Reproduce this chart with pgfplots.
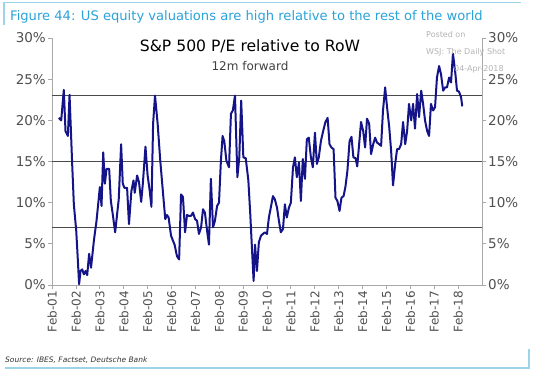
\documentclass[border=0pt]{standalone}
\usepackage{fontspec}
\setmainfont{DejaVu Sans}
\usepackage{pgfplots}
\pgfplotsset{compat=1.18}
\definecolor{dbblue}{HTML}{2AA3DA}
\definecolor{frameblue}{HTML}{9ED4EA}
\definecolor{navyline}{HTML}{141488}
\definecolor{axgray}{HTML}{A8A8A8}
\definecolor{lblgray}{HTML}{505050}
\definecolor{refgray}{HTML}{4A4A4A}
\definecolor{wmgray}{HTML}{B4B4B4}
\begin{document}
\begin{tikzpicture}
\begin{scope}[x=1pt,y=1pt]
\useasboundingbox (0,0) rectangle (540,370);
\fill[white] (0,0) rectangle (540,370);
\draw[frameblue, line width=1.3pt] (4,345) -- (4,367.5) -- (521,367.5);
\draw[frameblue, line width=1.3pt] (5,2) -- (529,2) -- (529,21);
\node[anchor=base west, text=dbblue, inner sep=0pt, font=\fontsize{13.1}{15}\selectfont] at (10,349) {Figure 44: US equity valuations are high relative to the rest of the world};
\node[anchor=west, inner sep=0pt, text=black!80, font=\fontsize{7.5}{9}\selectfont\itshape] at (5,10) {Source: IBES, Factset, Deutsche Bank};
\end{scope}
\begin{axis}[
  at={(52pt,85pt)}, anchor=south west,
  scale only axis, width=430pt, height=247pt,
  xmin=2001.075, xmax=2019.087, ymin=0, ymax=30,
  axis x line*=bottom, axis y line*=left,
  axis line style={axgray, line width=0.9pt},
  tick style={axgray, line width=0.9pt},
  tick align=outside, major tick length=4pt,
  xtick={2001.083,2002.083,2003.083,2004.083,2005.083,2006.083,2007.083,2008.083,2009.083,2010.083,2011.083,2012.083,2013.083,2014.083,2015.083,2016.083,2017.083,2018.083},
  xticklabels={Feb-01,Feb-02,Feb-03,Feb-04,Feb-05,Feb-06,Feb-07,Feb-08,Feb-09,Feb-10,Feb-11,Feb-12,Feb-13,Feb-14,Feb-15,Feb-16,Feb-17,Feb-18},
  xticklabel style={rotate=90, anchor=east, text=lblgray, font=\fontsize{12}{14}\selectfont, inner sep=2pt},
  ytick={0,5,10,15,20,25,30},
  yticklabels={0\%,5\%,10\%,15\%,20\%,25\%,30\%},
  yticklabel style={text=lblgray, font=\fontsize{13.5}{15}\selectfont, inner sep=2pt},
  clip=false,
]
\addplot[refgray, line width=1.2pt] coordinates {(2001.075,7)(2019.087,7)};
\addplot[refgray, line width=1.2pt] coordinates {(2001.075,15)(2019.087,15)};
\addplot[refgray, line width=1.2pt] coordinates {(2001.075,23)(2019.087,23)};
\addplot[navyline, line width=2pt, line join=round] coordinates {
(2001.36,20.3)(2001.46,20.0)(2001.57,23.7)(2001.64,18.7)(2001.74,18.1)(2001.81,23.1)(2001.92,14.7)(2001.99,9.8)(2002.09,6.6)(2002.16,2.9)(2002.21,0.1)(2002.27,1.7)(2002.34,1.9)(2002.41,1.3)(2002.48,1.7)(2002.55,1.2)(2002.63,3.8)(2002.71,2.1)(2002.83,5.4)(2002.94,7.8)(2003.08,11.9)(2003.15,9.6)(2003.22,16.1)(2003.29,12.3)(2003.36,14.1)(2003.47,14.1)(2003.54,10.2)(2003.62,8.6)(2003.72,6.4)(2003.87,10.4)(2003.97,17.1)(2004.04,12.3)(2004.11,11.8)(2004.22,11.8)(2004.30,7.4)(2004.40,11.4)(2004.49,12.7)(2004.54,11.2)(2004.64,13.3)(2004.72,12.5)(2004.81,10.1)(2004.88,12.3)(2004.99,16.8)(2005.08,13.3)(2005.17,11.4)(2005.24,9.5)(2005.31,19.6)(2005.39,23.0)(2005.50,19.6)(2005.61,15.1)(2005.73,11.0)(2005.82,8.0)(2005.89,8.5)(2005.96,8.2)(2006.06,6.0)(2006.14,5.4)(2006.21,4.9)(2006.31,3.5)(2006.40,3.1)(2006.48,11.0)(2006.56,10.7)(2006.65,6.4)(2006.73,8.5)(2006.81,8.4)(2006.90,8.4)(2006.98,8.8)(2007.07,8.0)(2007.15,7.8)(2007.23,6.2)(2007.32,7.0)(2007.40,9.2)(2007.48,8.8)(2007.57,6.6)(2007.65,4.9)(2007.73,12.9)(2007.82,7.0)(2007.90,7.8)(2007.99,9.6)(2008.07,10.0)(2008.15,15.1)(2008.22,18.1)(2008.29,17.5)(2008.38,15.1)(2008.49,14.3)(2008.57,20.8)(2008.65,21.2)(2008.74,23.0)(2008.84,13.1)(2008.92,15.5)(2009.00,22.4)(2009.09,15.5)(2009.19,15.4)(2009.30,12.7)(2009.38,8.6)(2009.45,4.5)(2009.52,0.5)(2009.58,4.9)(2009.66,1.7)(2009.74,5.2)(2009.83,6.0)(2009.91,6.2)(2009.99,6.4)(2010.08,6.2)(2010.16,8.2)(2010.24,9.4)(2010.33,10.8)(2010.41,10.4)(2010.50,9.4)(2010.58,7.8)(2010.66,6.4)(2010.75,6.8)(2010.83,9.8)(2010.91,8.2)(2011.00,9.4)(2011.08,10.0)(2011.17,14.3)(2011.25,15.5)(2011.33,13.1)(2011.42,14.9)(2011.50,10.2)(2011.58,15.3)(2011.67,12.9)(2011.75,17.7)(2011.83,17.9)(2011.92,15.5)(2012.00,14.3)(2012.09,18.5)(2012.17,14.7)(2012.25,15.5)(2012.34,17.5)(2012.45,18.9)(2012.53,19.8)(2012.62,20.3)(2012.70,17.1)(2012.78,16.7)(2012.87,16.5)(2012.95,10.6)(2013.03,10.2)(2013.12,9.0)(2013.20,10.6)(2013.29,10.8)(2013.37,12.0)(2013.45,13.9)(2013.54,17.5)(2013.62,18.0)(2013.70,15.5)(2013.79,15.4)(2013.86,14.4)(2013.94,17.1)(2014.02,19.8)(2014.11,18.7)(2014.19,16.7)(2014.27,20.2)(2014.36,19.6)(2014.44,15.9)(2014.53,17.1)(2014.61,17.9)(2014.69,17.3)(2014.78,17.1)(2014.86,16.9)(2014.94,21.2)(2015.03,24.0)(2015.11,21.6)(2015.20,19.2)(2015.28,16.3)(2015.36,12.1)(2015.45,14.7)(2015.53,16.5)(2015.61,16.5)(2015.70,17.1)(2015.78,19.8)(2015.87,17.1)(2015.95,18.7)(2016.03,22.0)(2016.12,20.0)(2016.20,22.0)(2016.28,19.0)(2016.37,23.2)(2016.45,20.4)(2016.54,23.6)(2016.62,22.0)(2016.70,20.0)(2016.79,18.7)(2016.87,18.1)(2016.95,22.0)(2017.04,21.2)(2017.12,21.6)(2017.20,25.2)(2017.29,26.6)(2017.37,25.6)(2017.46,23.6)(2017.54,24.0)(2017.62,24.0)(2017.71,25.2)(2017.79,24.6)(2017.87,28.1)(2017.96,26.0)(2018.04,23.6)(2018.12,23.5)(2018.21,22.8)(2018.26,21.7)
};
\end{axis}
\begin{axis}[
  at={(52pt,85pt)}, anchor=south west,
  scale only axis, width=430pt, height=247pt,
  xmin=2001.075, xmax=2019.087, ymin=0, ymax=30,
  axis x line=none, axis y line*=right,
  axis line style={axgray, line width=0.9pt},
  tick style={axgray, line width=0.9pt},
  tick align=outside, major tick length=4pt,
  ytick={0,5,10,15,20,25,30},
  yticklabels={0\%,5\%,10\%,15\%,20\%,25\%,30\%},
  yticklabel style={text=lblgray, font=\fontsize{13.5}{15}\selectfont, inner sep=2pt},
]
\end{axis}
\begin{scope}[x=1pt,y=1pt]
\node[anchor=base, inner sep=0pt, text=black, font=\fontsize{15.6}{17}\selectfont] at (250,318) {S\&P 500 P/E relative to RoW};
\node[anchor=base, inner sep=0pt, text=black!75, font=\fontsize{12}{13}\selectfont] at (250,299) {12m forward};
\node[anchor=base west, inner sep=0pt, text=wmgray, font=\fontsize{8}{9}\selectfont] at (426,332) {Posted on};
\node[anchor=base west, inner sep=0pt, text=wmgray, font=\fontsize{8}{9}\selectfont] at (426,315) {WSJ: The Daily Shot};
\node[anchor=base west, inner sep=0pt, text=wmgray, font=\fontsize{8}{9}\selectfont] at (454,298) {04-Apr-2018};
\end{scope}
\end{tikzpicture}
\end{document}
